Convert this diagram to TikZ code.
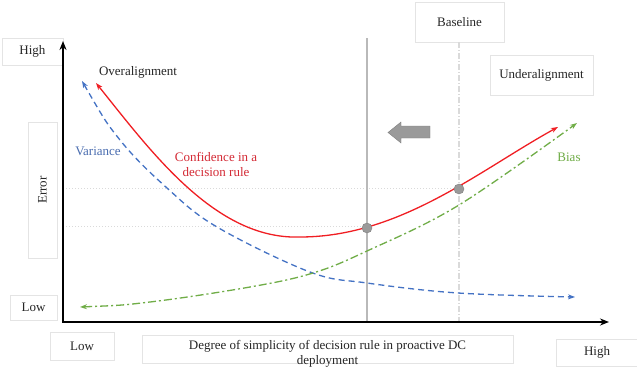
\documentclass[tikz,border=0pt]{standalone}
\usepackage{fontspec}
\setmainfont{Liberation Serif}
\usetikzlibrary{arrows.meta}
\definecolor{txt}{HTML}{262626}
\definecolor{cred}{HTML}{F01E23}
\definecolor{tred}{HTML}{D42A35}
\definecolor{cblue}{HTML}{4472C4}
\definecolor{tblue}{HTML}{4A6DB0}
\definecolor{cgreen}{HTML}{70AD47}
\definecolor{boxline}{HTML}{E4E4E4}
\definecolor{guide}{HTML}{DADADA}
\definecolor{markgray}{HTML}{9A9A9A}
\begin{document}
\begin{tikzpicture}[x=1pt,y=-1pt,
  font=\fontsize{13}{15}\selectfont,
  lbl/.style={text=txt, inner sep=0pt},
  framebox/.style={draw=boxline, line width=0.6pt, inner sep=0pt, text=txt},
  curve/.style={line width=1.3pt},
  tipboth/.style={{Stealth[length=7pt,width=5pt]}-{Stealth[length=7pt,width=5pt]}},
  dot/.style={circle, fill=markgray, draw=gray, line width=0.4pt, minimum size=10pt, inner sep=0pt}]
\fill[white] (0,0) rectangle (637,372);
\useasboundingbox (0,0) rectangle (637,372);

% label boxes
\node[framebox, minimum width=61pt, minimum height=27pt] (yhigh) at (32.5,51.5) {High};
\node[framebox, minimum width=136pt, minimum height=29pt, rotate=90] (ylab) at (42.5,190) {Error};
\node[framebox, minimum width=47pt, minimum height=25pt] (ylow) at (33.5,307.5) {Low};
\node[framebox, minimum width=64pt, minimum height=28pt] (xlow) at (82,346) {Low};
\node[framebox, minimum width=81pt, minimum height=27pt] (xhigh) at (597,352.5) {High};
\node[framebox, minimum width=89pt, minimum height=40pt] (base) at (459.5,22) {Baseline};
\node[framebox, minimum width=103pt, minimum height=40pt] (under) at (541.5,75) {Underalignment};
\node[framebox, minimum width=371pt, minimum height=28pt] (xlabbox) at (327.5,349) {};
\node[lbl, align=center] (xlab) at (327.5,353.5) {Degree of simplicity of decision rule in proactive DC\\deployment};

% guide lines
\coordinate (gtop) at (367,38);
\coordinate (gbot) at (367,322);
\coordinate (btop) at (459,42);
\coordinate (bbot) at (459,322);
\coordinate (h1a) at (63,188);
\coordinate (h1b) at (459,188);
\coordinate (h2a) at (63,226);
\coordinate (h2b) at (367,226);
\draw[guide, line width=1pt, dotted] (h1a) -- (h1b);
\draw[guide, line width=1pt, dotted] (h2a) -- (h2b);
\draw[guide, line width=1.5pt, dash pattern=on 6pt off 2pt on 1pt off 2pt] (btop) -- (bbot);
\draw[gray!55, line width=1.5pt] (gtop) -- (gbot);

% axes
\coordinate (o) at (63,322);
\coordinate (ytip) at (63,41);
\coordinate (xtip) at (609,322);
\draw[black, line width=1.8pt, {Stealth[length=9pt,width=7pt]}-{Stealth[length=9pt,width=7pt]}] (ytip) -- (o) -- (xtip);

% curves
\coordinate (rs) at (96,83);
\coordinate (rmin) at (300,237);
\coordinate (re) at (558,127);
\draw[cblue, curve, tipboth, dash pattern=on 6pt off 4pt] plot[smooth, tension=0.6] coordinates {(82,81) (120,140) (167,188) (217,227) (310,272) (367,283) (458,293) (575,297)};
\draw[cgreen, curve, tipboth, dash pattern=on 8pt off 3pt on 2pt off 3pt] plot[smooth, tension=0.6] coordinates {(80,307) (150,302) (250,287) (313,273) (367,251) (459,205) (577,123)};
\draw[cred, curve, tipboth] (rs) .. controls (150,150) and (215,240) .. (rmin) .. controls (400,237) and (480,170) .. (re);

% markers
\node[dot] (m1) at (367,228) {};
\node[dot] (m2) at (459,189) {};

% shift arrow
\fill[markgray, draw=gray, line width=0.4pt] (430,126) -- (401,126) -- (401,122) -- (388,132.5) -- (401,143) -- (401,138) -- (430,138) -- cycle;

% curve labels
\node[lbl] (over) at (138,72) {Overalignment};
\node[lbl, text=tblue] (var) at (98,151) {Variance};
\node[lbl, text=tred, align=center] (conf) at (216,164) {Confidence in a\\decision rule};
\node[lbl, text=cgreen] (bias) at (569,157) {Bias};
\end{tikzpicture}
\end{document}
